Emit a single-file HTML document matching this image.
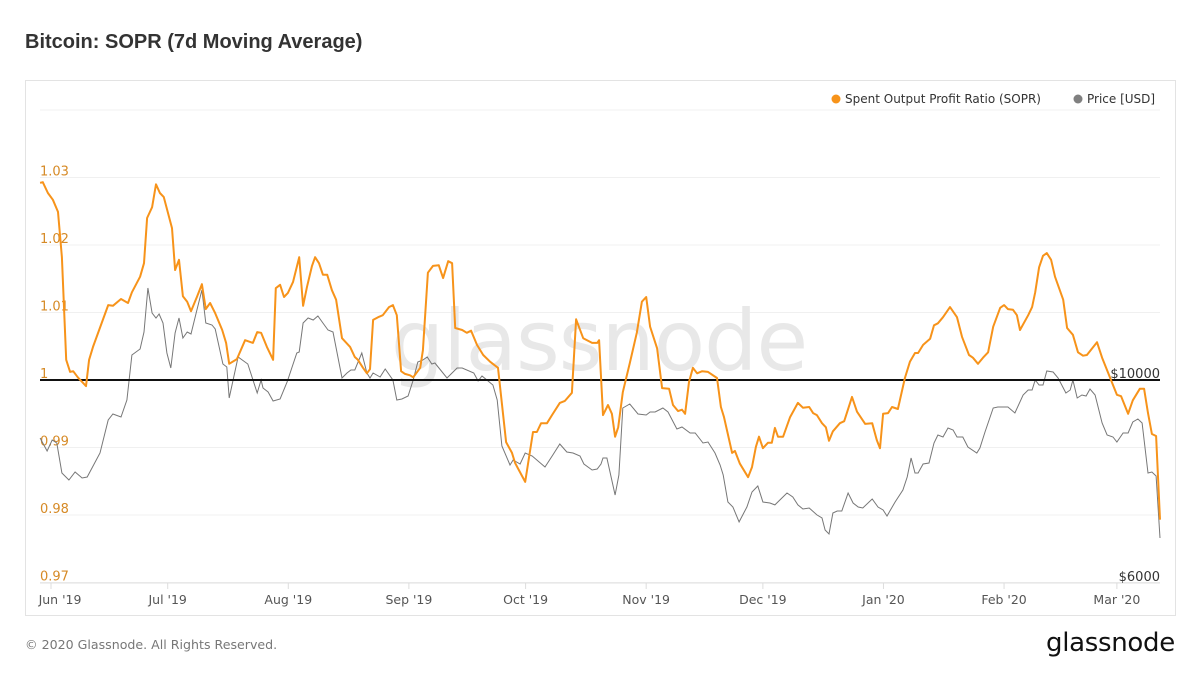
<!DOCTYPE html>
<html><head><meta charset="utf-8">
<style>
body{margin:0;background:#fff;width:1200px;height:675px;overflow:hidden;font-family:"DejaVu Sans","Liberation Sans",sans-serif;}
#title{position:absolute;left:25px;top:31px;font:bold 20px "Liberation Sans",sans-serif;color:#333;}
#panel{position:absolute;left:25px;top:80px;width:1149px;height:534px;border:1px solid #e3e3e3;}
#footer{position:absolute;left:25px;top:637px;font-size:12.6px;color:#777;}
#logo{position:absolute;left:1046px;top:628px;font-size:26px;color:#111;letter-spacing:-0.3px;}
svg{position:absolute;left:0;top:0;}
</style></head><body>
<div id="title">Bitcoin: SOPR (7d Moving Average)</div>
<div id="panel"></div>
<svg id="chart" width="1200" height="675"></svg>
<div id="footer">© 2020 Glassnode. All Rights Reserved.</div>
<div id="logo">glassnode</div>
<script>
const soprDays=[-2.8,-2.1,-0.8,0.5,1.8,2.8,3.9,4.9,5.7,6.9,9.0,9.8,10.8,14.7,15.9,18.0,19.8,20.8,22.9,23.9,24.7,26.0,27.0,28.0,29.0,31.1,31.9,32.9,33.9,35.0,36.0,37.5,38.8,39.8,40.9,42.2,44.0,45.0,45.8,47.8,49.9,51.9,53.0,54.0,55.5,57.1,57.8,58.9,59.9,60.9,62.2,63.8,64.8,65.8,67.1,67.9,68.9,69.9,71.0,72.2,73.3,74.8,76.9,78.1,78.9,80.2,81.2,82.0,82.8,84.1,85.3,86.9,87.9,88.9,90.0,91.0,92.3,93.1,94.9,95.6,96.9,98.2,99.7,100.8,102.1,103.1,103.9,105.7,106.9,108.0,109.5,111.1,112.9,114.9,117.0,118.5,119.3,121.9,123.9,124.9,126.0,127.5,128.8,130.8,132.1,133.9,135.0,136.8,139.1,140.4,140.9,141.9,143.2,144.2,145.0,145.8,147.0,148.8,150.6,151.9,153.0,154.0,155.8,157.1,158.9,159.9,161.2,162.2,163.0,164.0,165.0,166.1,167.4,168.9,171.2,172.2,173.0,175.1,175.8,177.1,179.2,180.2,181.2,182.0,183.0,184.3,185.3,186.1,186.9,188.2,190.0,192.0,193.3,194.9,195.9,196.9,198.2,199.2,200.0,201.0,202.8,203.9,205.9,207.2,209.3,211.1,212.3,213.1,213.9,215.2,216.2,217.7,219.5,220.8,222.1,222.9,224.2,226.0,227.0,228.0,229.3,231.1,232.9,234.2,236.0,237.0,238.3,239.6,240.9,242.2,244.0,245.0,246.0,247.3,248.3,249.1,251.2,252.2,253.0,254.0,255.0,256.0,257.1,258.1,260.2,261.2,262.7,264.0,265.3,266.3,268.9,270.2,272.2,274.0,275.1,276.9,278.1,279.9,281.0,282.0,283.0,284.1,285.1];
const soprValues=[1.0292,1.0293,1.0277,1.0267,1.0249,1.0182,1.0030,1.0012,1.0013,1.0004,0.9991,1.0030,1.0049,1.0111,1.0110,1.0120,1.0114,1.0130,1.0153,1.0173,1.0240,1.0256,1.0290,1.0277,1.0271,1.0225,1.0163,1.0178,1.0124,1.0116,1.0102,1.0123,1.0142,1.0105,1.0114,1.0099,1.0074,1.0055,1.0024,1.0031,1.0059,1.0055,1.0071,1.0070,1.0049,1.0030,1.0136,1.0141,1.0123,1.0129,1.0145,1.0182,1.0110,1.0138,1.0169,1.0182,1.0173,1.0156,1.0156,1.0133,1.0119,1.0062,1.0049,1.0034,1.0030,1.0018,1.0010,1.0016,1.0089,1.0093,1.0096,1.0108,1.0111,1.0096,1.0013,1.0009,1.0007,1.0004,1.0018,1.0044,1.0159,1.0169,1.0170,1.0151,1.0176,1.0173,1.0077,1.0074,1.0070,1.0073,1.0052,1.0037,1.0027,1.0018,0.9908,0.9892,0.9877,0.9849,0.9923,0.9923,0.9936,0.9936,0.9948,0.9966,0.9969,0.9981,1.0090,1.0062,1.0055,1.0055,1.0059,0.9948,0.9963,0.9950,0.9916,0.9930,0.9982,1.0025,1.0070,1.0116,1.0123,1.0079,1.0047,0.9988,0.9987,0.9963,0.9954,0.9956,0.9950,0.9997,1.0018,1.0010,1.0013,1.0012,1.0003,0.9960,0.9945,0.9892,0.9895,0.9876,0.9856,0.9871,0.9901,0.9916,0.9899,0.9907,0.9907,0.9929,0.9916,0.9916,0.9945,0.9966,0.9959,0.9960,0.9951,0.9948,0.9936,0.9930,0.9910,0.9924,0.9936,0.9939,0.9975,0.9953,0.9935,0.9936,0.9911,0.9899,0.9950,0.9951,0.9960,0.9957,1.0003,1.0027,1.0040,1.0040,1.0052,1.0061,1.0081,1.0084,1.0093,1.0108,1.0093,1.0064,1.0037,1.0033,1.0024,1.0033,1.0041,1.0079,1.0107,1.0111,1.0105,1.0104,1.0096,1.0074,1.0096,1.0108,1.0130,1.0167,1.0184,1.0188,1.0178,1.0153,1.0119,1.0077,1.0067,1.0041,1.0036,1.0037,1.0056,1.0033,1.0004,0.9978,0.9976,0.9950,0.9970,0.9987,0.9987,0.9951,0.9920,0.9917,0.9793];
const priceDays=[-2.8,-1.0,0.3,1.5,2.8,4.6,6.2,8.0,9.3,12.6,14.7,15.9,18.0,19.5,20.8,22.9,23.9,24.9,26.0,27.0,27.8,28.8,29.8,30.8,31.9,32.9,33.9,35.0,36.0,37.5,38.8,39.8,41.4,42.2,44.2,45.2,45.8,48.1,50.6,53.0,54.0,54.5,55.8,57.1,58.9,60.7,63.2,63.8,64.8,66.1,67.4,68.6,69.9,71.2,72.5,74.8,76.1,77.1,78.1,79.9,81.2,82.0,82.8,84.6,85.9,87.9,88.9,90.2,91.8,93.1,94.3,95.6,96.7,97.9,98.7,101.8,104.4,105.7,108.7,109.8,110.8,113.6,114.7,115.9,118.0,118.8,120.6,121.9,123.7,127.0,129.0,130.8,132.6,134.2,136.0,137.0,139.1,140.4,141.4,141.9,142.9,145.0,146.0,147.0,148.8,150.9,153.0,154.0,155.3,157.3,158.6,160.9,162.2,164.3,165.6,167.6,168.9,170.7,172.0,172.8,174.0,175.3,176.9,178.9,180.2,181.7,183.0,184.8,186.1,187.9,189.2,190.7,192.0,193.3,194.9,196.9,198.2,199.0,200.0,201.0,202.1,203.3,204.9,206.2,207.5,208.7,211.1,212.6,213.9,214.9,217.0,219.0,220.1,221.1,222.1,222.9,224.2,225.7,227.0,228.0,229.3,230.6,231.9,232.9,234.4,235.7,238.0,238.8,240.1,242.2,243.4,246.0,247.8,249.9,251.2,252.2,253.0,254.0,255.0,256.0,257.6,258.9,260.9,262.0,262.7,263.8,265.0,266.1,267.1,268.4,270.2,271.5,273.0,274.0,275.6,276.9,278.1,279.4,280.5,282.0,283.0,284.1,285.1];
const priceValues=[8857,8601,8818,8759,8168,8030,8188,8069,8089,8562,9212,9330,9271,9606,10493,10611,10946,11812,11320,11221,11300,11123,10532,10236,10926,11221,10827,10946,10906,11379,11773,11123,11084,11005,10315,10256,9645,10453,10315,9744,10000,9842,9764,9586,9626,9961,10532,10552,11123,11221,11182,11261,11123,10985,10946,10039,10138,10197,10197,10532,10138,10039,10138,10059,10217,10000,9606,9626,9685,10000,10355,10394,10453,10315,10335,10039,10236,10236,10138,9980,10079,9902,9606,8700,8326,8424,8345,8562,8503,8286,8523,8739,8582,8562,8503,8345,8227,8247,8345,8463,8463,7734,8129,9448,9527,9330,9310,9370,9370,9448,9370,9035,9074,8956,8956,8759,8779,8562,8326,8129,7597,7498,7203,7498,7794,7912,7597,7577,7538,7675,7774,7695,7538,7459,7478,7341,7281,7045,6966,7380,7419,7419,7774,7577,7498,7478,7656,7498,7439,7321,7597,7833,8089,8463,8168,8168,8345,8365,8759,8916,8877,9054,9015,8877,8877,8680,8562,8660,8976,9448,9468,9468,9350,9704,9803,9803,10000,9902,9902,10177,10158,10039,9744,9803,10000,9645,9704,9685,9823,9704,9153,8916,8877,8779,8956,8956,9173,9232,9153,8168,8188,8109,6887];
const soprTicks=[0.97,0.98,0.99,1,1.01,1.02,1.03,1.04];
const soprTickLabels=["0.97","0.98","0.99","1","1.01","1.02","1.03",""];
const monthDays=[0,30,61,92,122,153,183,214,245,274];
const monthLabels=["Jun '19","Jul '19","Aug '19","Sep '19","Oct '19","Nov '19","Dec '19","Jan '20","Feb '20","Mar '20"];
const priceTicks=[6000,10000];
const priceTickLabels=["$6000","$10000"];

const NS="http://www.w3.org/2000/svg";
const svg=document.getElementById('chart');
const X0=40,X1=1160;
const xs=d=>51+d*3.89;
const ys=v=>380-(v-1)*6750;
const yp=p=>380-(p-10000)*203/4000;
function mk(t,a){const e=document.createElementNS(NS,t);for(const k in a)e.setAttribute(k,a[k]);svg.appendChild(e);return e;}

soprTicks.forEach((t,i)=>{
  const g=mk('line',{x1:X0,x2:X1,y1:ys(t),y2:ys(t),stroke:'#f0f0f0','stroke-width':1});
  
  
  if(soprTickLabels[i]){
    const l=mk('text',{x:X0,y:ys(t)-2,'font-size':13,fill:'#d68a26','font-family':'DejaVu Sans, sans-serif'});
    l.textContent=soprTickLabels[i];
    
    
  }
});
const base=mk('line',{x1:X0,x2:X1,y1:583,y2:583,stroke:'#e0e0e0'});


monthDays.forEach((d,i)=>{
  const tk=mk('line',{x1:xs(d),x2:xs(d),y1:583,y2:589,stroke:'#ddd'});
  
  
  const l=mk('text',{x:Math.max(xs(d),60),y:604,'font-size':12.5,fill:'#555','text-anchor':'middle','font-family':'DejaVu Sans, sans-serif'});
  l.textContent=monthLabels[i];
  
  
});
priceTicks.forEach((p,i)=>{
  const l=mk('text',{x:X1,y:yp(p)-2,'font-size':13,fill:'#333','text-anchor':'end','font-family':'DejaVu Sans, sans-serif'});
  l.textContent=priceTickLabels[i];
  
  
});
const wm=mk('text',{x:599,y:370,'font-size':84,fill:'#e8e8e8','text-anchor':'middle','font-family':'DejaVu Sans, sans-serif','letter-spacing':'-1'});
wm.textContent='glassnode';



const pp=mk('polyline',{points:priceDays.map((d,i)=>xs(d).toFixed(1)+','+yp(priceValues[i]).toFixed(1)).join(' '),fill:'none',stroke:'#777','stroke-width':1});


const one=mk('line',{x1:X0,x2:X1,y1:ys(1),y2:ys(1),stroke:'#111','stroke-width':2});


const sp=mk('polyline',{points:soprDays.map((d,i)=>xs(d).toFixed(1)+','+ys(soprValues[i]).toFixed(1)).join(' '),fill:'none',stroke:'#f7931a','stroke-width':2,'stroke-linejoin':'round'});



const c1=mk('circle',{cx:836,cy:99,r:4.5,fill:'#f7931a'});


const t1=mk('text',{x:845,y:103,'font-size':12,fill:'#333','font-family':'DejaVu Sans, sans-serif'});
t1.textContent='Spent Output Profit Ratio (SOPR)';


const c2=mk('circle',{cx:1078,cy:99,r:4.5,fill:'#808080'});


const t2=mk('text',{x:1087,y:103,'font-size':12,fill:'#333','font-family':'DejaVu Sans, sans-serif'});
t2.textContent='Price [USD]';


</script>
</body></html>
